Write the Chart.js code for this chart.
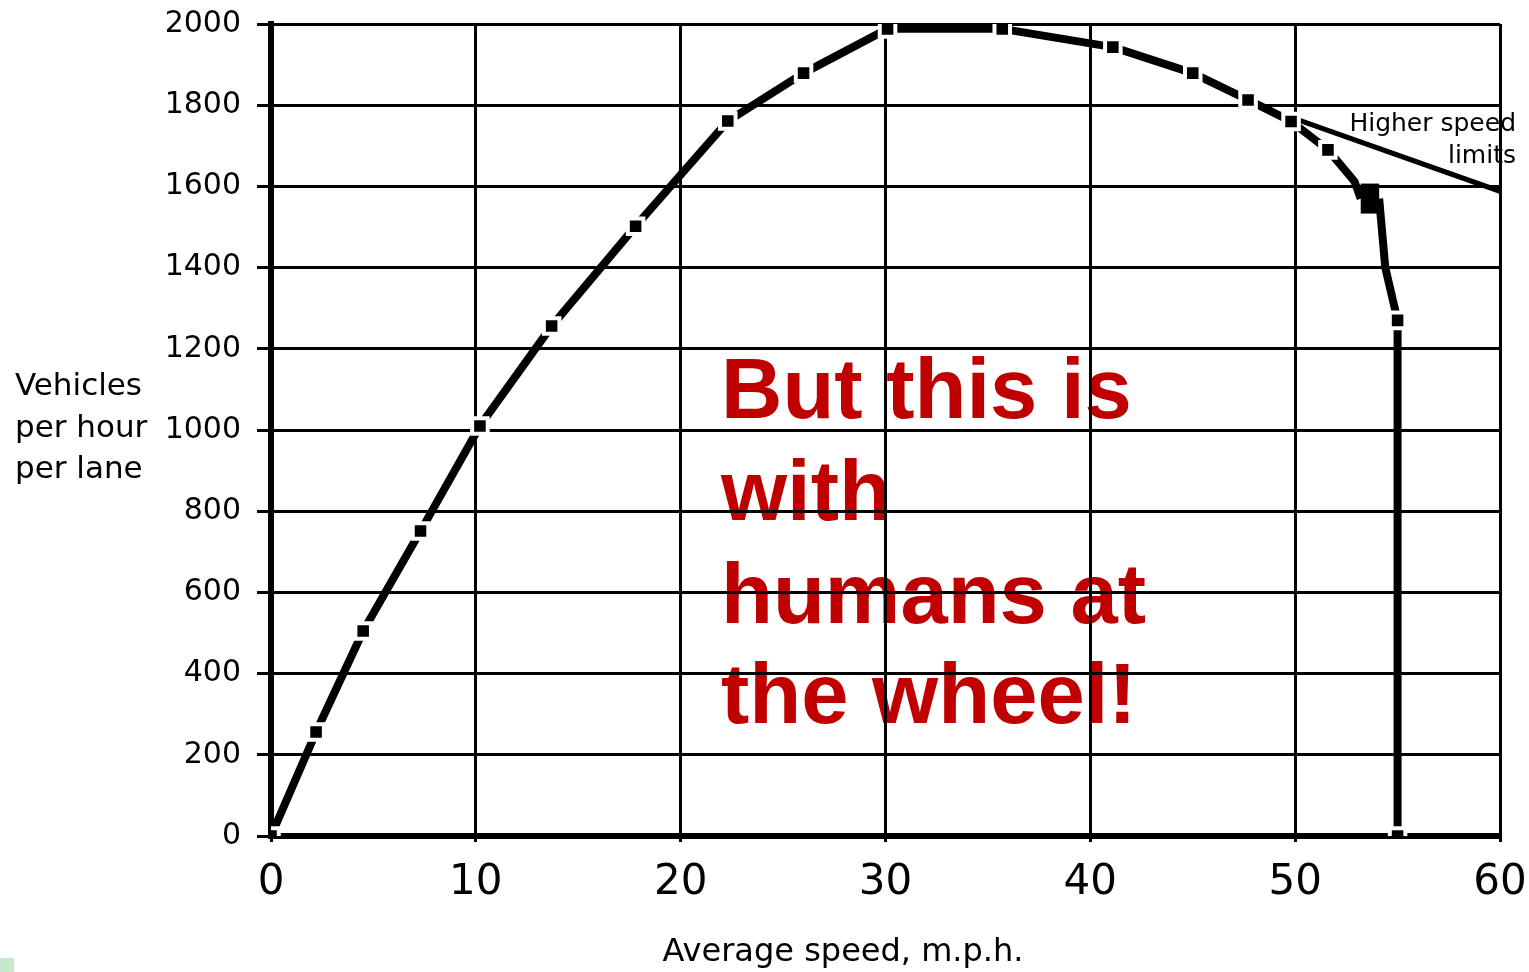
<!DOCTYPE html>
<html>
<head>
<meta charset="utf-8">
<script src="https://cdn.jsdelivr.net/npm/chart.js@4.4.1/dist/chart.umd.min.js"></script>
<style>
  html, body { margin: 0; padding: 0; background: #fff; overflow: hidden; }
  #wrap { width: 1529px; height: 972px; position: relative; }
</style>
</head>
<body>
<div id="wrap"><canvas id="flowChart" width="1529" height="972"></canvas></div>
<script>
// Data
const speedMain = [0, 2.2, 4.5, 7.3, 10.2, 13.7, 17.8, 22.3, 26.0, 30.1, 35.7, 41.1, 45.0, 47.7, 49.8, 51.6, 52.9, 53.2, 54.1, 54.4, 55.0, 55.0];
const flowMain = [0, 256, 505, 751, 1010, 1256, 1502, 1761, 1879, 1988, 1988, 1943, 1879, 1813, 1760, 1690, 1612, 1570, 1570, 1400, 1270, 0];

const speedHigher = [49.8, 60];
const flowHigher = [1770, 1588];

const xTicks = [0, 10, 20, 30, 40, 50, 60];
const yTicks = [0, 200, 400, 600, 800, 1000, 1200, 1400, 1600, 1800, 2000];

const yTitleLines = ['Vehicles', 'per hour', 'per lane'];
const xTitle = 'Average speed, m.p.h.';
const branchLabel = ['Higher speed', 'limits'];
const noteLines = ['But this is', 'with', 'humans at', 'the wheel!'];

const toPoints = (xs, ys) => xs.map((x, i) => ({ x: x, y: ys[i] }));

// Text drawn under the grid (red note) and around the plot
const textPlugin = {
    id: 'slideText',
    beforeDraw(chart) {
        const ctx = chart.ctx;
        ctx.save();
        ctx.fillStyle = '#fff';
        ctx.fillRect(0, 0, chart.width, chart.height);

        // small green corner mark of the slide
        ctx.fillStyle = '#c6e8cc';
        ctx.fillRect(0, 958, 14, 14);

        ctx.fillStyle = '#c00000';
        ctx.font = 'bold 85px "Liberation Sans", Arial, sans-serif';
        ctx.textBaseline = 'alphabetic';
        ctx.textAlign = 'left';
        const baselines = [418, 520, 623, 723];
        noteLines.forEach((line, i) => ctx.fillText(line, 721, baselines[i]));
        ctx.restore();
    },
    afterDraw(chart) {
        const ctx = chart.ctx;
        ctx.save();
        ctx.fillStyle = '#000';
        ctx.textBaseline = 'middle';

        ctx.font = '31px "DejaVu Sans", sans-serif';
        ctx.textAlign = 'left';
        const titleY = [387, 429, 470];
        yTitleLines.forEach((line, i) => ctx.fillText(line, 15, titleY[i]));

        ctx.font = '32px "DejaVu Sans", sans-serif';
        ctx.textAlign = 'center';
        ctx.fillText(xTitle, 843, 953);

        ctx.font = '25px "DejaVu Sans", sans-serif';
        ctx.textAlign = 'right';
        ctx.fillText(branchLabel[0], 1516, 124);
        ctx.fillText(branchLabel[1], 1516, 156);
        ctx.restore();
    }
};

new Chart(document.getElementById('flowChart'), {
    type: 'scatter',
    data: {
        datasets: [
            {
                label: 'Flow',
                data: toPoints(speedMain, flowMain),
                showLine: true,
                borderColor: '#000',
                borderWidth: 8,
                borderJoinStyle: 'bevel',
                tension: 0,
                // the breakdown knot near 54 mph is drawn as one heavy stroke
                segment: {
                    borderWidth: c => (c.p0.parsed.y === c.p1.parsed.y && c.p0.parsed.x > 50) ? 30 : undefined
                },
                pointStyle: 'rect',
                pointRadius: c => {
                    const p = c.raw;
                    return (p && p.x > 52.5 && p.x < 54.5) ? 0 : 11;
                },
                pointBackgroundColor: '#000',
                pointBorderColor: '#fff',
                pointBorderWidth: 4
            },
            {
                label: 'Higher speed limits',
                data: toPoints(speedHigher, flowHigher),
                showLine: true,
                borderColor: '#000',
                borderWidth: 5,
                pointRadius: 0,
                tension: 0
            }
        ]
    },
    options: {
        responsive: false,
        animation: false,
        events: [],
        layout: { padding: { top: 24, right: 29, left: 0, bottom: 0 } },
        plugins: {
            legend: { display: false },
            tooltip: { enabled: false }
        },
        scales: {
            x: {
                type: 'linear',
                min: 0,
                max: 60,
                afterBuildTicks: s => { s.ticks = xTicks.map(v => ({ value: v })); },
                afterFit: s => { s.height = 136; s.paddingLeft = 0; s.paddingRight = 0; },
                ticks: {
                    color: '#000',
                    font: { family: '"DejaVu Sans", sans-serif', size: 42 },
                    padding: 16,
                    maxRotation: 0,
                    autoSkip: false,
                    callback: v => String(v)
                },
                grid: { color: '#000', lineWidth: 3, tickLength: 6, tickColor: '#000' },
                border: { color: '#000', width: 6 }
            },
            y: {
                min: 0,
                max: 2000,
                afterBuildTicks: s => { s.ticks = yTicks.map(v => ({ value: v })); },
                afterFit: s => { s.width = 271; s.paddingTop = 0; s.paddingBottom = 0; },
                ticks: {
                    color: '#000',
                    font: { family: '"DejaVu Sans", sans-serif', size: 30 },
                    padding: 16,
                    autoSkip: false,
                    callback: v => String(v)
                },
                grid: { color: '#000', lineWidth: 3, tickLength: 14, tickColor: '#000' },
                border: { color: '#000', width: 6 }
            }
        }
    },
    plugins: [textPlugin]
});
</script>
</body>
</html>
